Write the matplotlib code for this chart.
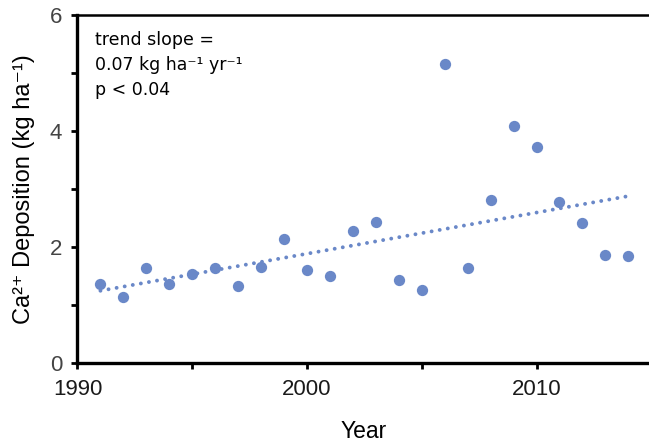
import matplotlib
matplotlib.use("Agg")
import matplotlib.pyplot as plt
from matplotlib.ticker import MultipleLocator

plt.rcParams["font.family"] = ["Liberation Sans", "DejaVu Sans"]

years = [1991, 1992, 1993, 1994, 1995, 1996, 1997, 1998, 1999, 2000, 2001, 2002,
         2003, 2004, 2005, 2006, 2007, 2008, 2009, 2010, 2011, 2012, 2013, 2014]
deposition = [1.37, 1.14, 1.64, 1.37, 1.54, 1.64, 1.34, 1.66, 2.14, 1.61, 1.50, 2.28,
              2.44, 1.43, 1.27, 5.16, 1.64, 2.81, 4.08, 3.72, 2.78, 2.41, 1.87, 1.84]
trend_years = [1991, 2014]
trend_values = [1.25, 2.88]

color = "#6a88c8"

fig = plt.figure(figsize=(6.49, 4.45), dpi=100)
ax = fig.add_axes([0.1194, 0.1836, 0.8806, 0.7827])

# dotted trend line: round caps on near-zero dashes give dots
ax.plot(trend_years, trend_values, linestyle=(0, (0.01, 2.1)), color=color,
        linewidth=2.8, dash_capstyle="round")
ax.scatter(years, deposition, s=66, color=color, zorder=3, linewidths=0)

ax.set_xlim(1990, 2014.9)
ax.set_ylim(0, 6)
ax.xaxis.set_major_locator(MultipleLocator(10))
ax.xaxis.set_minor_locator(MultipleLocator(5))
ax.yaxis.set_major_locator(MultipleLocator(2))
ax.yaxis.set_minor_locator(MultipleLocator(1))

ax.spines["right"].set_visible(False)
ax.spines["left"].set_linewidth(2.4)
ax.spines["bottom"].set_linewidth(2.4)
ax.spines["top"].set_linewidth(1.8)
ax.tick_params(which="both", direction="out", width=2, length=4, colors="black")
ax.tick_params(axis="x", which="major", labelsize=16, labelcolor="#1a1a1a", pad=7)
ax.tick_params(axis="y", which="major", labelsize=16, labelcolor="#444444", pad=7)

ax.set_xlabel("Year", fontsize=16.5, labelpad=15)
ax.set_ylabel("Ca\u00b2\u207a Deposition (kg ha\u207b\u00b9)", fontsize=17, labelpad=11)

ax.text(0.03, 0.955, "trend slope =\n0.07 kg ha\u207b\u00b9 yr\u207b\u00b9\np < 0.04",
        transform=ax.transAxes, fontsize=12.5, va="top", ha="left",
        linespacing=1.5, family=["DejaVu Sans"])

fig.savefig("out.png", dpi=100)
